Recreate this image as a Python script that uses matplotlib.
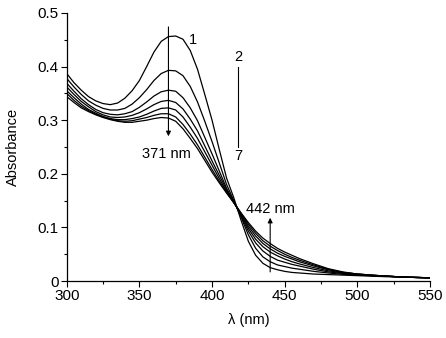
import matplotlib
matplotlib.use("Agg")
import matplotlib.pyplot as plt
from matplotlib.ticker import MultipleLocator, FixedLocator, FixedFormatter

plt.rcParams['font.family'] = ['Liberation Sans', 'DejaVu Sans']

# wavelengths (nm)
wl = [300, 305, 310, 315, 320, 325, 330, 335, 340, 345, 350, 355, 360, 365, 370, 375,
      380, 385, 390, 395, 400, 405, 410, 415, 420, 425, 430, 435, 440, 445, 450, 455,
      460, 470, 480, 490, 500, 510, 520, 535, 550]

c1 = [0.387, 0.370, 0.356, 0.344, 0.336, 0.331, 0.329, 0.332, 0.341, 0.355, 0.374, 0.400,
      0.427, 0.447, 0.456, 0.457, 0.451, 0.430, 0.395, 0.348, 0.300, 0.245, 0.192, 0.155,
      0.113, 0.074, 0.048, 0.033, 0.025, 0.021, 0.018, 0.016, 0.015, 0.013, 0.012, 0.011,
      0.010, 0.009, 0.008, 0.007, 0.006]
c2 = [0.378, 0.362, 0.348, 0.336, 0.328, 0.322, 0.319, 0.319, 0.322, 0.330, 0.342, 0.357,
      0.374, 0.387, 0.393, 0.392, 0.383, 0.363, 0.334, 0.298, 0.260, 0.220, 0.180, 0.150,
      0.119, 0.086, 0.061, 0.045, 0.036, 0.030, 0.027, 0.024, 0.022, 0.018, 0.015, 0.0125,
      0.011, 0.010, 0.009, 0.007, 0.006]
c3 = [0.369, 0.354, 0.340, 0.329, 0.320, 0.314, 0.311, 0.310, 0.312, 0.316, 0.324, 0.334,
      0.345, 0.353, 0.356, 0.354, 0.342, 0.323, 0.299, 0.268, 0.237, 0.205, 0.173, 0.148,
      0.121, 0.093, 0.071, 0.056, 0.046, 0.039, 0.035, 0.031, 0.028, 0.022, 0.017, 0.014,
      0.012, 0.010, 0.009, 0.007, 0.006]
c4 = [0.362, 0.348, 0.335, 0.325, 0.316, 0.310, 0.306, 0.305, 0.306, 0.309, 0.314, 0.321,
      0.329, 0.335, 0.337, 0.333, 0.321, 0.302, 0.280, 0.252, 0.224, 0.197, 0.170, 0.147,
      0.123, 0.098, 0.078, 0.064, 0.054, 0.047, 0.041, 0.036, 0.032, 0.025, 0.019, 0.015,
      0.012, 0.010, 0.009, 0.007, 0.006]
c5 = [0.355, 0.342, 0.330, 0.320, 0.313, 0.307, 0.303, 0.301, 0.301, 0.303, 0.306, 0.311,
      0.317, 0.322, 0.323, 0.319, 0.306, 0.287, 0.266, 0.241, 0.216, 0.191, 0.167, 0.146,
      0.125, 0.102, 0.084, 0.070, 0.060, 0.052, 0.046, 0.041, 0.036, 0.028, 0.021, 0.016,
      0.013, 0.011, 0.009, 0.007, 0.006]
c6 = [0.350, 0.337, 0.326, 0.318, 0.311, 0.306, 0.302, 0.299, 0.298, 0.299, 0.302, 0.305,
      0.309, 0.312, 0.312, 0.306, 0.292, 0.274, 0.254, 0.231, 0.208, 0.186, 0.165, 0.146,
      0.126, 0.106, 0.089, 0.075, 0.065, 0.057, 0.050, 0.044, 0.039, 0.030, 0.022, 0.016,
      0.013, 0.011, 0.009, 0.007, 0.006]
c7 = [0.344, 0.333, 0.323, 0.316, 0.310, 0.305, 0.301, 0.298, 0.296, 0.296, 0.298, 0.300,
      0.303, 0.305, 0.304, 0.298, 0.284, 0.266, 0.247, 0.225, 0.203, 0.183, 0.164, 0.146,
      0.127, 0.109, 0.093, 0.080, 0.070, 0.061, 0.054, 0.048, 0.042, 0.032, 0.023, 0.017,
      0.013, 0.011, 0.009, 0.007, 0.006]
series = [c1, c2, c3, c4, c5, c6, c7]

x_ticks = [300, 350, 400, 450, 500, 550]
x_ticklabels = ['300', '350', '400', '450', '500', '550']
y_ticks = [0, 0.1, 0.2, 0.3, 0.4, 0.5]
y_ticklabels = ['0', '0.1', '0.2', '0.3', '0.4', '0.5']

fig = plt.figure(figsize=(4.46, 3.38), dpi=100)
ax = fig.add_axes([0.1496, 0.1686, 0.8146, 0.793])

for s in series:
    ax.plot(wl, s, color='black', lw=0.9)

ax.set_xlim(300, 550)
ax.set_ylim(0, 0.5)
ax.xaxis.set_major_locator(FixedLocator(x_ticks))
ax.xaxis.set_major_formatter(FixedFormatter(x_ticklabels))
ax.xaxis.set_minor_locator(MultipleLocator(25))
ax.yaxis.set_major_locator(FixedLocator(y_ticks))
ax.yaxis.set_major_formatter(FixedFormatter(y_ticklabels))
ax.yaxis.set_minor_locator(MultipleLocator(0.05))

for side in ['top', 'right']:
    ax.spines[side].set_visible(False)
for side in ['left', 'bottom']:
    ax.spines[side].set_linewidth(0.9)
ax.tick_params(which='major', direction='out', length=4, width=0.8, labelsize=11, pad=2)
ax.tick_params(which='minor', direction='out', length=2.2, width=0.8)

ax.set_xlabel('λ (nm)', fontsize=10.5)
ax.set_ylabel('Absorbance', fontsize=10.5)
ax.xaxis.set_label_coords(0.5, -0.12)
ax.yaxis.set_label_coords(-0.13, 0.5)

# annotations
arrow_kw = dict(arrowstyle='-|>', color='black', lw=0.8, mutation_scale=7,
                shrinkA=0, shrinkB=0)
ax.annotate('', xy=(370, 0.27), xytext=(370, 0.474), arrowprops=arrow_kw)
ax.annotate('', xy=(440, 0.118), xytext=(440, 0.017), arrowprops=arrow_kw)
ax.text(368.8, 0.237, '371 nm', ha='center', va='center', fontsize=10.5)
ax.text(440, 0.134, '442 nm', ha='center', va='center', fontsize=10.5)
ax.text(387, 0.449, '1', ha='center', va='center', fontsize=10.5)
ax.text(418, 0.418, '2', ha='center', va='center', fontsize=10.5)
ax.text(418, 0.233, '7', ha='center', va='center', fontsize=10.5)
ax.plot([418, 418], [0.25, 0.40], color='black', lw=0.8)

fig.savefig('out.png', dpi=100)
